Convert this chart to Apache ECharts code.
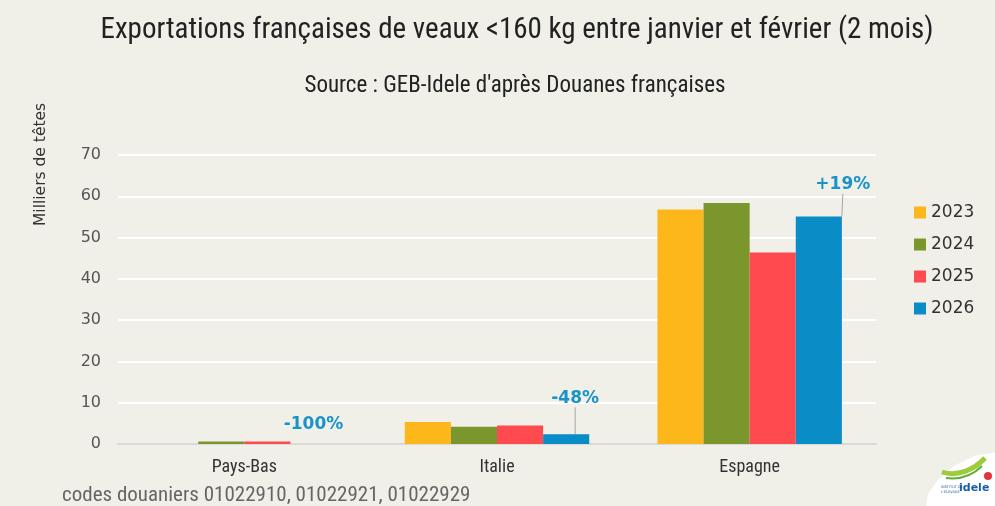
<!DOCTYPE html>
<html>
<head>
<meta charset="utf-8">
<script src="https://cdn.jsdelivr.net/npm/echarts@6/dist/echarts.min.js"></script>
<style>
  html, body { margin: 0; padding: 0; background: #f0f0e9; }
  #chart { width: 995px; height: 506px; }
</style>
</head>
<body>
<div id="chart"></div>
<script>
const countries = ['Pays-Bas', 'Italie', 'Espagne']
const years = ['2023', '2024', '2025', '2026']
const values2023 = [0, 5.3, 56.8]
const values2024 = [0.6, 4.2, 58.4]
const values2025 = [0.6, 4.5, 46.4]
const values2026 = [0, 2.35, 55.1]
const evolution2026 = ['-100%', '-48%', '+19%']
const yTicks = [0, 10, 20, 30, 40, 50, 60, 70]

const colors = ['#fdb71a', '#7a962d', '#ff4a4f', '#0a8dc6']
const narrow = '"Liberation Sans Narrow", "Roboto Condensed", "Noto Sans", sans-serif'
const wide = '"DejaVu Sans", Verdana, sans-serif'

const chart = echarts.init(document.getElementById('chart'))

// position of each % label relative to its bar top
const labelShift = [
  { dx: 0, dy: -6 },
  { dx: 9, dy: -22 },
  { dx: 24, dy: -18 }
]

const series = [values2023, values2024, values2025, values2026].map((vals, i) => {
  const s = {
    name: years[i],
    type: 'bar',
    barGap: '0%',
    barCategoryGap: '27%',
    itemStyle: { color: colors[i] },
    data: vals
  }
  if (i === 3) {
    s.data = vals.map((v, k) => ({
      value: v,
      label: {
        show: true,
        position: 'top',
        formatter: evolution2026[k],
        color: '#1a93c9',
        fontWeight: 'bold',
        fontSize: 17,
        fontFamily: wide
      },
      labelLine: { show: k > 0, lineStyle: { color: '#a6a6a6', width: 1 } }
    }))
    s.labelLayout = (p) => labelShift[p.dataIndex]
    s.labelLine = { show: true, lineStyle: { color: '#a6a6a6', width: 1 } }
  }
  return s
})

const option = {
  backgroundColor: '#f0f0e9',
  animation: false,
  color: colors,
  title: [
    {
      text: 'Exportations françaises de veaux <160 kg entre janvier et février (2 mois)',
      left: 512,
      textAlign: 'center',
      top: 11,
      textStyle: { fontFamily: narrow, fontSize: 29, fontWeight: 'normal', color: '#222' }
    },
    {
      text: "Source : GEB-Idele d'après Douanes françaises",
      left: 510,
      textAlign: 'center',
      top: 70,
      textStyle: { fontFamily: narrow, fontSize: 23, fontWeight: 'normal', color: '#222' }
    }
  ],
  grid: { left: 118, right: 119, top: 155, bottom: 62 },
  legend: {
    orient: 'vertical',
    left: 909,
    top: 199,
    itemWidth: 12,
    itemHeight: 12,
    itemGap: 15,
    icon: 'rect',
    data: years,
    textStyle: { fontFamily: wide, fontSize: 17, color: '#333' }
  },
  xAxis: {
    type: 'category',
    data: countries,
    axisTick: { show: false },
    axisLine: { lineStyle: { color: '#d9d9d9', width: 2 } },
    axisLabel: { fontFamily: narrow, fontSize: 18, color: '#333', margin: 14 }
  },
  yAxis: {
    type: 'value',
    min: yTicks[0],
    max: yTicks[yTicks.length - 1],
    interval: 10,
    axisLine: { show: false },
    axisTick: { show: false },
    axisLabel: { fontFamily: wide, fontSize: 16, color: '#555', margin: 17 },
    splitLine: { lineStyle: { color: '#ffffff', width: 2 } }
  },
  series: series,
  graphic: [
    {
      type: 'text',
      x: 33,
      y: 226,
      rotation: Math.PI / 2,
      style: { text: 'Milliers de têtes', fontFamily: wide, fontSize: 15.5, fill: '#333' }
    },
    {
      type: 'text',
      x: 62,
      y: 485,
      style: { text: 'codes douaniers 01022910, 01022921, 01022929', fontFamily: narrow, fontSize: 21, fill: '#666' }
    },
    {
      type: 'group',
      x: 922,
      y: 452,
      children: [
        { type: 'polygon', shape: { points: [[16, 28], [32, 14], [52, 4], [76, 0], [76, 56], [4, 56], [6, 42]] }, style: { fill: '#ffffff' } },
        { type: 'bezierCurve', shape: { x1: 20, y1: 20, cpx1: 35, cpy1: 25, cpx2: 52, cpy2: 18, x2: 63, y2: 6 }, style: { stroke: '#9ccb3b', lineWidth: 5, fill: null } },
        { type: 'bezierCurve', shape: { x1: 24, y1: 26, cpx1: 40, cpy1: 28, cpx2: 52, cpy2: 22, x2: 60, y2: 14 }, style: { stroke: '#5fae32', lineWidth: 2, fill: null } },
        { type: 'circle', shape: { cx: 66, cy: 24, r: 4 }, style: { fill: '#e3343c' } },
        { type: 'text', x: 37, y: 31, style: { text: 'idele', fontFamily: wide, fontWeight: 'bold', fontSize: 11, fill: '#1a5ea8' } },
        { type: 'text', x: 19, y: 33, style: { text: 'INSTITUT DE\nL\'ÉLEVAGE', fontFamily: wide, fontSize: 3.5, lineHeight: 4.5, fill: '#1a5ea8' } }
      ]
    }
  ]
}

chart.setOption(option)
</script>
</body>
</html>
